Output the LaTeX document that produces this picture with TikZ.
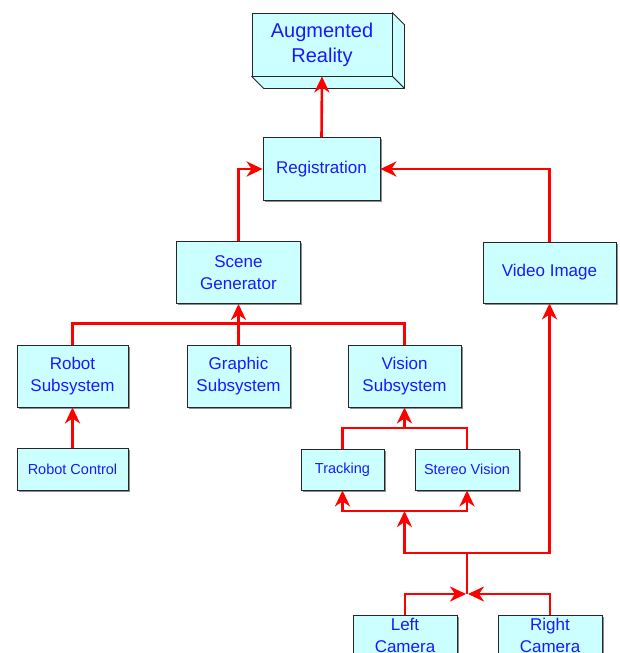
\documentclass[tikz,border=0pt]{standalone}
\usepackage{fontspec}
\setmainfont{Liberation Sans}
\usetikzlibrary{arrows.meta,calc}
\definecolor{boxfill}{RGB}{204,255,255}
\definecolor{txtblue}{RGB}{25,25,255}
\definecolor{linered}{RGB}{255,0,0}
\tikzset{
  box/.style={draw=black!85, line width=0.8pt, fill=boxfill, text=txtblue, inner sep=0pt, align=center,
    preaction={fill=black!45, transform canvas={shift={(1.6pt,-1.6pt)}}}},
  big/.style={font={\fontsize{17}{21.5}\selectfont}},
  small/.style={font={\fontsize{14.5}{17}\selectfont}},
  wire/.style={draw=linered, line width=2.6pt},
  conn/.style={wire, -{Stealth[length=16pt,width=15pt,inset=5pt]}},
}
\begin{document}
\begin{tikzpicture}[x=1pt,y=-1pt]
\useasboundingbox (0,0) rectangle (619,653);
% Augmented Reality (3D box)
\node[box, minimum width=140, minimum height=63, font={\fontsize{20}{25}\selectfont}] (ar) at (322,44.5) {Augmented\\Reality};
\filldraw[fill=boxfill, draw=black!85, line width=0.8pt, line join=round]
  (ar.north east) -- ++(12,12) -- ($(ar.south east)+(12,12)$) -- (ar.south east) -- cycle;
\filldraw[fill=boxfill, draw=black!85, line width=0.8pt, line join=round]
  (ar.south west) -- ++(12,12) -- ($(ar.south east)+(12,12)$) -- (ar.south east) -- cycle;
% Boxes
\node[box, big, minimum width=117, minimum height=63] (reg) at (321.5,169) {Registration};
\node[box, big, minimum width=124, minimum height=62] (scene) at (238.5,272.5) {Scene\\Generator};
\node[box, big, minimum width=133, minimum height=61] (video) at (549.5,272.5) {Video Image};
\node[box, big, minimum width=111, minimum height=62] (robot) at (72.5,376) {Robot\\Subsystem};
\node[box, big, minimum width=103, minimum height=62] (graphic) at (238.5,376) {Graphic\\Subsystem};
\node[box, big, minimum width=113, minimum height=62] (vision) at (404.5,376) {Vision\\Subsystem};
\node[box, small, minimum width=111, minimum height=42] (rc) at (72.5,469.5) {Robot Control};
\node[box, small, minimum width=83, minimum height=41] (track) at (342.5,469.5) {Tracking};
\node[box, small, minimum width=104, minimum height=41] (stereo) at (467,469.5) {Stereo Vision};
\node[box, big, anchor=north, minimum width=104, inner ysep=3pt] (left) at (405,615) {Left\\Camera};
\node[box, big, anchor=north, minimum width=104, inner ysep=3pt] (right) at (550,615) {Right\\Camera};
% Coordinates
\coordinate (vb) at (404.5,429);
\coordinate (tb) at (404.5,511);
\coordinate (cj) at (467,553);
\coordinate (jl) at (466,594);
\coordinate (jr) at (468,594);
% Connectors
\draw[conn] (reg.north) -- (ar.south);
\draw[conn] (scene.north) |- (reg.west);
\draw[conn] (video.north) |- (reg.east);
\draw[wire] (robot.north) -- ++(0,-21) -| (vision.north);
\draw[conn] (graphic.north) -- (scene.south);
\draw[conn] (rc.north) -- (robot.south);
\draw[wire] (track.north) -- ++(0,-20.5) -| (stereo.north);
\draw[conn] (vb) -- (vision.south);
\draw[conn] (tb) -| (track.south);
\draw[conn] (tb) -| (stereo.south);
\draw[conn] (cj) -| (tb);
\draw[conn] (cj) -| (video.south);
\draw[wire] (cj) -- (cj |- jl);
\draw[conn] (left.north) |- (jl);
\draw[conn] (right.north) |- (jr);
\end{tikzpicture}
\end{document}
